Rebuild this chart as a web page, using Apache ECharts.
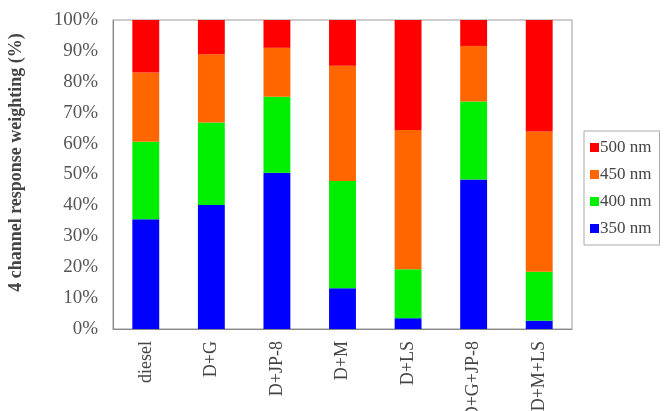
<!DOCTYPE html>
<html>
<head>
<meta charset="utf-8">
<script src="https://cdn.jsdelivr.net/npm/echarts@6/dist/echarts.min.js"></script>
<style>
  html, body { margin: 0; padding: 0; background: #fff; }
  #chart { width: 671px; height: 411px; }
</style>
</head>
<body>
<div id="chart"></div>
<script>
  // fuel mixtures (x axis)
  var categories = ['diesel', 'D+G', 'D+JP-8', 'D+M', 'D+LS', 'D+G+JP-8', 'D+M+LS'];
  // channel weights in %, stacked bottom to top
  var nm350 = [35.5, 40.1, 50.6, 13.2, 3.5, 48.4, 2.7];
  var nm400 = [25.1, 26.7, 24.6, 34.7, 15.8, 25.2, 15.8];
  var nm450 = [22.4, 22.1, 15.8, 37.3, 45.1, 18.0, 45.4];
  var nm500 = [17.0, 11.1, 9.0, 14.8, 35.6, 8.4, 36.1];
  var yTicks = [0, 10, 20, 30, 40, 50, 60, 70, 80, 90, 100];

  var chart = echarts.init(document.getElementById('chart'));
  var serif = '"Liberation Serif", "DejaVu Serif", serif';

  function bar(name, data, color) {
    return {
      name: name,
      type: 'bar',
      stack: 'total',
      barWidth: '41%',
      data: data,
      itemStyle: { color: color },
      emphasis: { disabled: true }
    };
  }

  var option = {
    animation: false,
    textStyle: { fontFamily: serif },
    grid: {
      left: 113, right: 99, top: 20, bottom: 82,
      outerBoundsMode: 'none',
      containLabel: false,
      show: true, borderColor: '#999', borderWidth: 1
    },
    legend: {
      orient: 'vertical',
      left: 584, top: 131,
      data: ['500 nm', '450 nm', '400 nm', '350 nm'],
      icon: 'rect',
      itemWidth: 9, itemHeight: 9,
      itemGap: 10,
      padding: [8, 8, 8, 6],
      borderColor: '#aaa', borderWidth: 1,
      textStyle: { fontFamily: serif, fontSize: 17, color: '#444', padding: [0, 0, 0, -4] }
    },
    xAxis: {
      type: 'category',
      data: categories,
      axisLine: { lineStyle: { color: '#888' } },
      axisTick: { inside: true, length: 4, lineStyle: { color: '#888' } },
      axisLabel: { rotate: 90, margin: 12, fontFamily: serif, fontSize: 18, color: '#444' }
    },
    yAxis: {
      type: 'value',
      min: yTicks[0], max: yTicks[yTicks.length - 1], interval: 10,
      name: '4 channel response weighting (%)',
      nameLocation: 'middle',
      nameGap: 88,
      nameTextStyle: { fontFamily: serif, fontSize: 18, fontWeight: 'bold', color: '#444', padding: [0, 0, 0, 24] },
      axisLine: { show: true, lineStyle: { color: '#888' } },
      axisTick: { show: false },
      splitLine: { show: false },
      axisLabel: { fontFamily: serif, fontSize: 19, color: '#555', margin: 15, formatter: '{value}%' }
    },
    series: [
      bar('350 nm', nm350, '#0000ff'),
      bar('400 nm', nm400, '#00ee00'),
      bar('450 nm', nm450, '#ff6600'),
      bar('500 nm', nm500, '#ff0000')
    ]
  };

  chart.setOption(option);
</script>
</body>
</html>
